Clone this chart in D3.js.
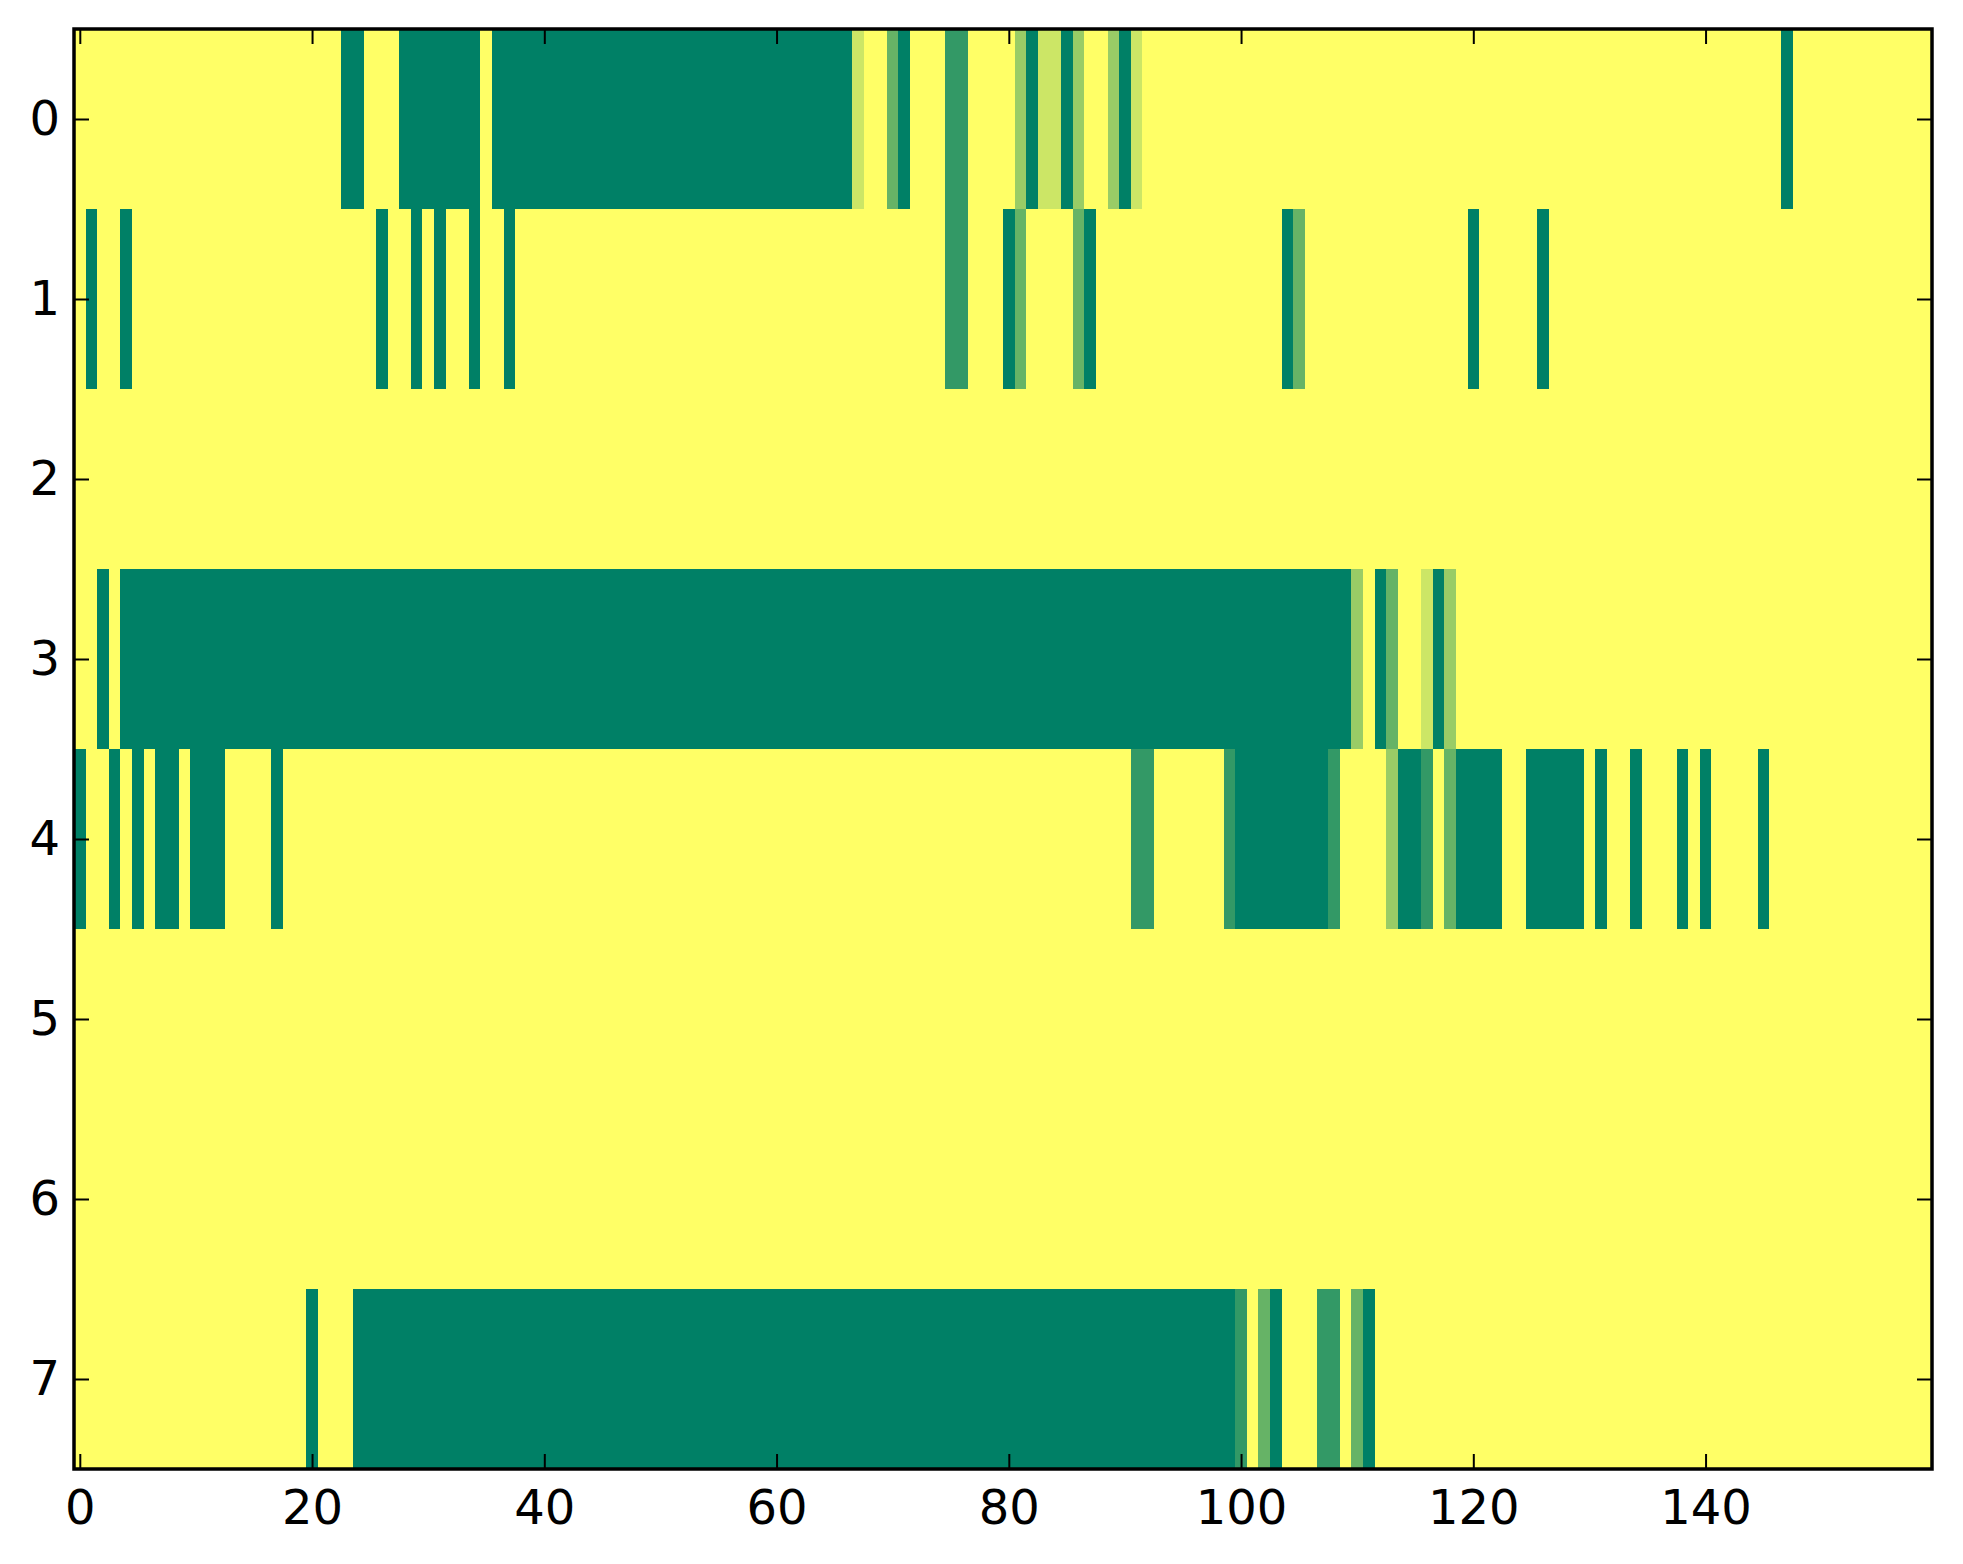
<!DOCTYPE html>
<html>
<head>
<meta charset="utf-8">
<script src="https://cdn.jsdelivr.net/npm/d3@7"></script>
<style>
  html, body { margin: 0; padding: 0; background: #ffffff; }
  svg { display: block; }
  text { font-family: "DejaVu Sans", sans-serif; }
</style>
</head>
<body>
<script>
// ---- Data: 8 rows x 160 columns, level 0 (dark green) .. 5 (yellow) ----
const row0 = [
  5,5,5,5,5,5,5,5,5,5,5,5,5,5,5,5,5,5,5,5,
  5,5,5,0,0,5,5,5,0,0,0,0,0,0,0,5,0,0,0,0,
  0,0,0,0,0,0,0,0,0,0,0,0,0,0,0,0,0,0,0,0,
  0,0,0,0,0,0,0,4,5,5,2,0,5,5,5,1,1,5,5,5,
  5,3,0,4,4,0,3,5,5,3,0,4,5,5,5,5,5,5,5,5,
  5,5,5,5,5,5,5,5,5,5,5,5,5,5,5,5,5,5,5,5,
  5,5,5,5,5,5,5,5,5,5,5,5,5,5,5,5,5,5,5,5,
  5,5,5,5,5,5,5,0,5,5,5,5,5,5,5,5,5,5,5,5
];
const row1 = [
  5,0,5,5,0,5,5,5,5,5,5,5,5,5,5,5,5,5,5,5,
  5,5,5,5,5,5,0,5,5,0,5,0,5,5,0,5,5,0,5,5,
  5,5,5,5,5,5,5,5,5,5,5,5,5,5,5,5,5,5,5,5,
  5,5,5,5,5,5,5,5,5,5,5,5,5,5,5,1,1,5,5,5,
  0,2,5,5,5,5,2,0,5,5,5,5,5,5,5,5,5,5,5,5,
  5,5,5,5,0,2,5,5,5,5,5,5,5,5,5,5,5,5,5,5,
  0,5,5,5,5,5,0,5,5,5,5,5,5,5,5,5,5,5,5,5,
  5,5,5,5,5,5,5,5,5,5,5,5,5,5,5,5,5,5,5,5
];
const row2 = [
  5,5,5,5,5,5,5,5,5,5,5,5,5,5,5,5,5,5,5,5,
  5,5,5,5,5,5,5,5,5,5,5,5,5,5,5,5,5,5,5,5,
  5,5,5,5,5,5,5,5,5,5,5,5,5,5,5,5,5,5,5,5,
  5,5,5,5,5,5,5,5,5,5,5,5,5,5,5,5,5,5,5,5,
  5,5,5,5,5,5,5,5,5,5,5,5,5,5,5,5,5,5,5,5,
  5,5,5,5,5,5,5,5,5,5,5,5,5,5,5,5,5,5,5,5,
  5,5,5,5,5,5,5,5,5,5,5,5,5,5,5,5,5,5,5,5,
  5,5,5,5,5,5,5,5,5,5,5,5,5,5,5,5,5,5,5,5
];
const row3 = [
  5,5,0,5,0,0,0,0,0,0,0,0,0,0,0,0,0,0,0,0,
  0,0,0,0,0,0,0,0,0,0,0,0,0,0,0,0,0,0,0,0,
  0,0,0,0,0,0,0,0,0,0,0,0,0,0,0,0,0,0,0,0,
  0,0,0,0,0,0,0,0,0,0,0,0,0,0,0,0,0,0,0,0,
  0,0,0,0,0,0,0,0,0,0,0,0,0,0,0,0,0,0,0,0,
  0,0,0,0,0,0,0,0,0,0,3,5,0,2,5,5,4,0,3,5,
  5,5,5,5,5,5,5,5,5,5,5,5,5,5,5,5,5,5,5,5,
  5,5,5,5,5,5,5,5,5,5,5,5,5,5,5,5,5,5,5,5
];
const row4 = [
  0,5,5,0,5,0,5,0,0,5,0,0,0,5,5,5,5,0,5,5,
  5,5,5,5,5,5,5,5,5,5,5,5,5,5,5,5,5,5,5,5,
  5,5,5,5,5,5,5,5,5,5,5,5,5,5,5,5,5,5,5,5,
  5,5,5,5,5,5,5,5,5,5,5,5,5,5,5,5,5,5,5,5,
  5,5,5,5,5,5,5,5,5,5,5,1,1,5,5,5,5,5,5,1,
  0,0,0,0,0,0,0,0,1,5,5,5,5,3,0,0,1,5,2,0,
  0,0,0,5,5,0,0,0,0,0,5,0,5,5,0,5,5,5,0,5,
  0,5,5,5,5,0,5,5,5,5,5,5,5,5,5,5,5,5,5,5
];
const row5 = [
  5,5,5,5,5,5,5,5,5,5,5,5,5,5,5,5,5,5,5,5,
  5,5,5,5,5,5,5,5,5,5,5,5,5,5,5,5,5,5,5,5,
  5,5,5,5,5,5,5,5,5,5,5,5,5,5,5,5,5,5,5,5,
  5,5,5,5,5,5,5,5,5,5,5,5,5,5,5,5,5,5,5,5,
  5,5,5,5,5,5,5,5,5,5,5,5,5,5,5,5,5,5,5,5,
  5,5,5,5,5,5,5,5,5,5,5,5,5,5,5,5,5,5,5,5,
  5,5,5,5,5,5,5,5,5,5,5,5,5,5,5,5,5,5,5,5,
  5,5,5,5,5,5,5,5,5,5,5,5,5,5,5,5,5,5,5,5
];
const row6 = [
  5,5,5,5,5,5,5,5,5,5,5,5,5,5,5,5,5,5,5,5,
  5,5,5,5,5,5,5,5,5,5,5,5,5,5,5,5,5,5,5,5,
  5,5,5,5,5,5,5,5,5,5,5,5,5,5,5,5,5,5,5,5,
  5,5,5,5,5,5,5,5,5,5,5,5,5,5,5,5,5,5,5,5,
  5,5,5,5,5,5,5,5,5,5,5,5,5,5,5,5,5,5,5,5,
  5,5,5,5,5,5,5,5,5,5,5,5,5,5,5,5,5,5,5,5,
  5,5,5,5,5,5,5,5,5,5,5,5,5,5,5,5,5,5,5,5,
  5,5,5,5,5,5,5,5,5,5,5,5,5,5,5,5,5,5,5,5
];
const row7 = [
  5,5,5,5,5,5,5,5,5,5,5,5,5,5,5,5,5,5,5,5,
  0,5,5,5,0,0,0,0,0,0,0,0,0,0,0,0,0,0,0,0,
  0,0,0,0,0,0,0,0,0,0,0,0,0,0,0,0,0,0,0,0,
  0,0,0,0,0,0,0,0,0,0,0,0,0,0,0,0,0,0,0,0,
  0,0,0,0,0,0,0,0,0,0,0,0,0,0,0,0,0,0,0,0,
  1,5,2,0,5,5,5,1,1,5,2,0,5,5,5,5,5,5,5,5,
  5,5,5,5,5,5,5,5,5,5,5,5,5,5,5,5,5,5,5,5,
  5,5,5,5,5,5,5,5,5,5,5,5,5,5,5,5,5,5,5,5
];
const rows = [row0, row1, row2, row3, row4, row5, row6, row7];
const xTicks = [0, 20, 40, 60, 80, 100, 120, 140];
const yTicks = [0, 1, 2, 3, 4, 5, 6, 7];
const valueMin = 0, valueMax = 5;

// ---- Layout ----
const W = 1963, H = 1564;
const plot = { left: 74, top: 29, right: 1932, bottom: 1469 };
const nCols = row0.length, nRows = rows.length;

const svg = d3.select("body").append("svg")
  .attr("width", W).attr("height", H)
  .attr("viewBox", `0 0 ${W} ${H}`);
svg.append("rect").attr("width", W).attr("height", H).attr("fill", "#ffffff");

const x = d3.scaleLinear().domain([-0.5, nCols - 0.5]).range([plot.left, plot.right]);
const y = d3.scaleLinear().domain([-0.5, nRows - 0.5]).range([plot.top, plot.bottom]);

// matplotlib "summer" colormap
const summer = t => d3.rgb(Math.round(255 * t), Math.round(255 * (0.5 + 0.5 * t)), 102).formatHex();
const color = d3.scaleSequential([valueMin, valueMax], summer);

const cells = [];
rows.forEach((r, ri) => r.forEach((v, ci) => cells.push({ r: ri, c: ci, v })));

svg.append("g").attr("shape-rendering", "crispEdges")
  .selectAll("rect").data(cells).join("rect")
  .attr("x", d => x(d.c - 0.5))
  .attr("y", d => y(d.r - 0.5))
  .attr("width", d => x(d.c + 0.5) - x(d.c - 0.5) + 0.6)
  .attr("height", d => y(d.r + 0.5) - y(d.r - 0.5) + 0.6)
  .attr("fill", d => color(d.v));

// ---- Axes (ticks inside, on all four sides) ----
const tickLen = 15, fontSize = 48;
function styleAxis(g) {
  g.select(".domain").remove();
  g.selectAll(".tick line").attr("stroke", "#000").attr("stroke-width", 2);
  g.selectAll(".tick text").attr("fill", "#000")
    .style("font-family", '"DejaVu Sans", sans-serif').style("font-size", fontSize + "px");
}

svg.append("g").attr("transform", `translate(0,${plot.bottom})`)
  .call(d3.axisBottom(x).tickValues(xTicks).tickFormat(d3.format("d"))
    .tickSizeInner(-tickLen).tickSizeOuter(0).tickPadding(21))
  .call(styleAxis);

svg.append("g").attr("transform", `translate(0,${plot.top})`)
  .call(d3.axisTop(x).tickValues(xTicks).tickFormat("")
    .tickSizeInner(-tickLen).tickSizeOuter(0))
  .call(styleAxis);

svg.append("g").attr("transform", `translate(${plot.left},0)`)
  .call(d3.axisLeft(y).tickValues(yTicks).tickFormat(d3.format("d"))
    .tickSizeInner(-tickLen).tickSizeOuter(0).tickPadding(14))
  .call(styleAxis);

svg.append("g").attr("transform", `translate(${plot.right},0)`)
  .call(d3.axisRight(y).tickValues(yTicks).tickFormat("")
    .tickSizeInner(-tickLen).tickSizeOuter(0))
  .call(styleAxis);

// ---- Frame ----
svg.append("rect")
  .attr("x", plot.left).attr("y", plot.top)
  .attr("width", plot.right - plot.left).attr("height", plot.bottom - plot.top)
  .attr("fill", "none").attr("stroke", "#000").attr("stroke-width", 3.5);
</script>
</body>
</html>
